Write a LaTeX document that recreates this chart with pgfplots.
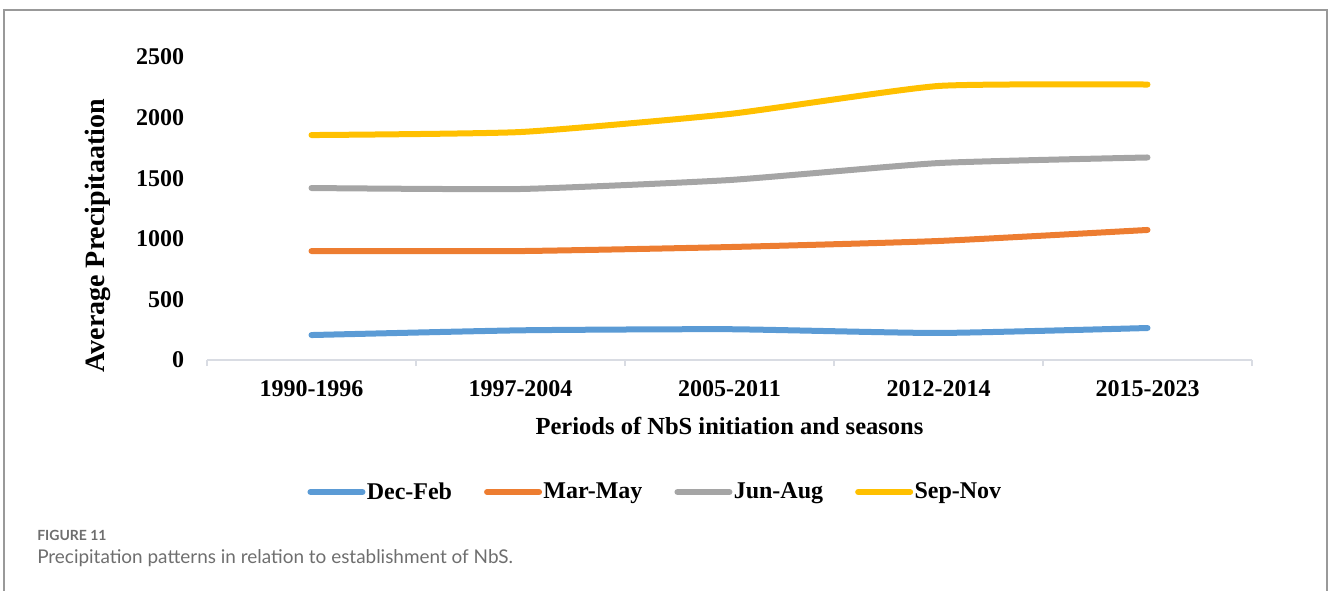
\documentclass[border=0pt]{standalone}
\usepackage{pgfplots}
\pgfplotsset{compat=1.18}
\usepackage{fontspec}
\setmainfont{Liberation Serif}
\newfontfamily\capfont{Lato}
\definecolor{cBlue}{HTML}{5B9BD5}
\definecolor{cOrange}{HTML}{ED7D31}
\definecolor{cGray}{HTML}{A5A5A5}
\definecolor{cYellow}{HTML}{FFC000}
\definecolor{axisgray}{HTML}{D9DCE3}
\definecolor{framegray}{HTML}{999999}
\definecolor{captiongray}{HTML}{6E6E6E}
\begin{document}
\begin{tikzpicture}
\useasboundingbox (0pt,0pt) rectangle (996pt,-442.5pt);
\draw[framegray, line width=1pt] (3pt,-445pt) -- (3pt,-7.5pt) -- (995.25pt,-7.5pt) -- (995.25pt,-445pt);
\begin{axis}[
  at={(155.25pt,-270pt)}, anchor=south west,
  width=783.75pt, height=227.25pt, scale only axis,
  xmin=-0.5, xmax=4.5, ymin=0, ymax=2500,
  axis x line*=bottom, axis y line*=left,
  y axis line style={draw=none},
  x axis line style={axisgray, line width=1.2pt},
  xtick={0,1,2,3,4},
  xticklabels={1990-1996,1997-2004,2005-2011,2012-2014,2015-2023},
  minor xtick={-0.5,0.5,1.5,2.5,3.5,4.5},
  ytick={0,500,1000,1500,2000,2500},
  major tick length=0pt, minor tick length=4.5pt,
  tick align=outside,
  minor tick style={axisgray, line width=1.2pt},
  /pgf/number format/assume math mode=true,
  /pgf/number format/1000 sep={},
  tick label style={font=\bfseries\fontsize{18}{18}\selectfont},
  xticklabel style={anchor=base, inner sep=0pt, yshift=-27.4pt},
  yticklabel style={anchor=east, inner sep=0pt, xshift=-17pt},
  xlabel={Periods of NbS initiation and seasons},
  xlabel style={at={(axis description cs:0.5,0)}, anchor=base, yshift=-56pt, font=\bfseries\fontsize{18.4}{18.4}\selectfont},
  ylabel={Average Precipitaation},
  ylabel style={at={(axis description cs:0,0.41)}, anchor=center, yshift=81.75pt, font=\bfseries\fontsize{21}{21}\selectfont},
  legend columns=4,
  legend style={at={(0.4287,-0.4356)}, anchor=center, draw=none, fill=none,
    font=\bfseries\fontsize{18}{18}\selectfont,
    /tikz/every even column/.append style={column sep=23pt},
    nodes={inner sep=1pt}},
  legend image code/.code={\draw[#1, line width=4.5pt, line cap=round] (2.25pt,0pt) -- (41.25pt,0pt);},
  every axis plot/.append style={line width=4.5pt, line cap=round, line join=round, smooth, tension=0.3, mark=none},
  clip=false,
]
\addplot[cBlue] coordinates {(0,206) (1,245) (2,254) (3,223) (4,264)};
\addlegendentry{Dec-Feb}
\addplot[cOrange] coordinates {(0,899) (1,899) (2,932) (3,982) (4,1073)};
\addlegendentry{Mar-May}
\addplot[cGray] coordinates {(0,1419) (1,1411) (2,1485) (3,1625) (4,1671)};
\addlegendentry{Jun-Aug}
\addplot[cYellow] coordinates {(0,1856) (1,1881) (2,2030) (3,2261) (4,2273)};
\addlegendentry{Sep-Nov}
\end{axis}
\node[anchor=base west, inner sep=0pt, text=captiongray, font=\capfont\bfseries\fontsize{10.5}{10.5}\selectfont] at (27.75pt,-405pt) {FIGURE 11};
\node[anchor=base west, inner sep=0pt, text=captiongray, font=\capfont\fontsize{14.2}{14.2}\selectfont] at (27.75pt,-422.5pt) {Precipitation patterns in relation to establishment of NbS.};
\end{tikzpicture}
\end{document}
